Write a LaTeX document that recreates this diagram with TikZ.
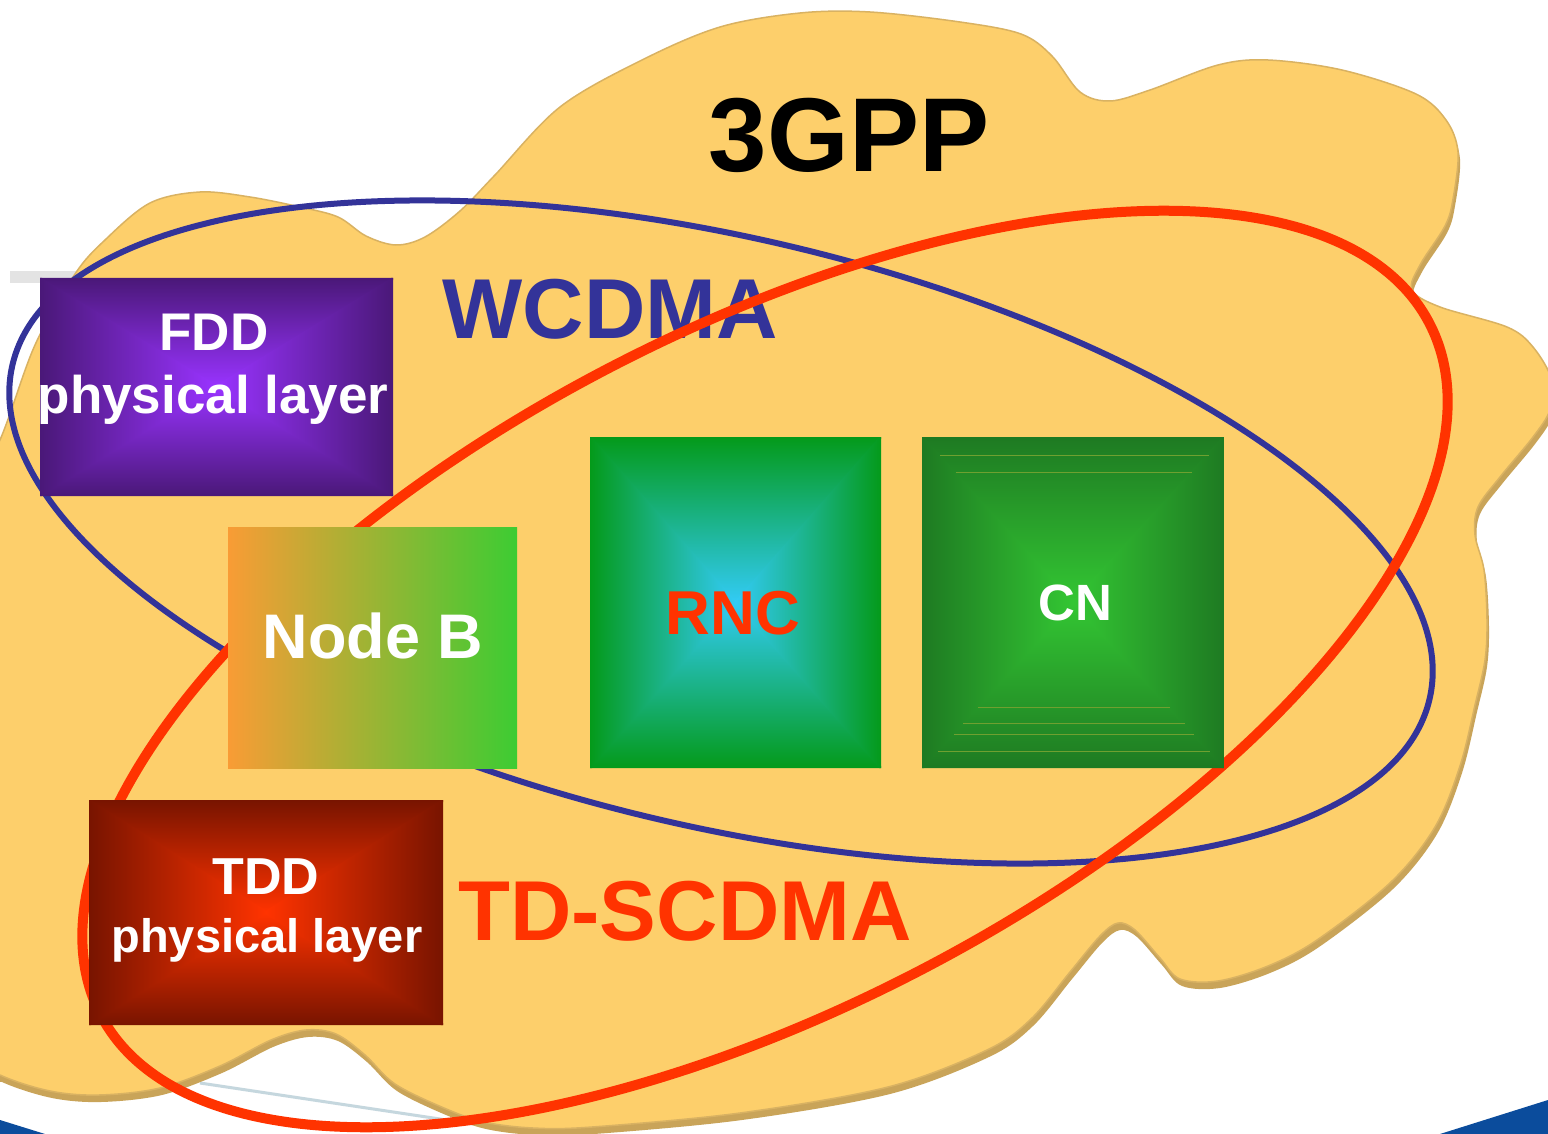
\documentclass[tikz,border=0pt]{standalone}
\usepackage{fontspec}
\setmainfont{Liberation Sans}
\definecolor{cloudfill}{HTML}{FDCF6B}
\definecolor{cloudedge}{HTML}{D9B262}
\definecolor{cloudshadow}{HTML}{C9A459}
\definecolor{wblue}{HTML}{333399}
\definecolor{tdred}{HTML}{FF3300}
\definecolor{fddout}{HTML}{4A1878}
\definecolor{fddin}{HTML}{9933FF}
\definecolor{tddout}{HTML}{781400}
\definecolor{tddin}{HTML}{FF3300}
\definecolor{rncout}{HTML}{049A1A}
\definecolor{rncin}{HTML}{32CBF5}
\definecolor{cnout}{HTML}{1E7A22}
\definecolor{cnin}{HTML}{33C633}
\definecolor{nbl}{HTML}{F99C35}
\definecolor{nbm}{HTML}{C4AE38}
\definecolor{nbr}{HTML}{3DCC33}
\definecolor{swoosh}{HTML}{0B4C9C}
\definecolor{cnline}{HTML}{6FA030}
\newcommand\rectshade[7]{%
  \pgfmathsetmacro\rsx{(#1+#3)/2}%
  \pgfmathsetmacro\rsy{(#2+#4)/2}%
  \begin{scope}
    \clip (#1,#2) -- (#3,#2) -- (#3,#2+2) -- (\rsx+2,\rsy) -- (\rsx-2,\rsy) -- (#1,#2+2) -- cycle;
    \shade[top color=#5, middle color=#7, bottom color=#6] (#1,#2) rectangle (#3,\rsy);
  \end{scope}
  \begin{scope}
    \clip (#1,#4) -- (#3,#4) -- (#3,#4-2) -- (\rsx+2,\rsy) -- (\rsx-2,\rsy) -- (#1,#4-2) -- cycle;
    \shade[top color=#6, middle color=#7, bottom color=#5] (#1,\rsy) rectangle (#3,#4);
  \end{scope}
  \begin{scope}
    \clip (#1,#2) -- (#1,#4) -- (#1+2,#4) -- (\rsx,\rsy+2) -- (\rsx,\rsy-2) -- (#1+2,#2) -- cycle;
    \shade[left color=#5, middle color=#7, right color=#6] (#1,#2) rectangle (\rsx,#4);
  \end{scope}
  \begin{scope}
    \clip (#3,#2) -- (#3,#4) -- (#3-2,#4) -- (\rsx,\rsy+2) -- (\rsx,\rsy-2) -- (#3-2,#2) -- cycle;
    \shade[left color=#6, middle color=#7, right color=#5] (\rsx,#2) rectangle (#3,#4);
  \end{scope}
}
\tikzset{
  boxnode/.style={draw=none, inner sep=0pt, outer sep=0pt},
  boxtext/.style={anchor=base, inner sep=0pt, text=white},
  cloudpath/.style={smooth cycle, tension=0.55},
}
\begin{document}
\begin{tikzpicture}[x=1pt,y=-1pt]
\useasboundingbox (0,0) rectangle (1548,1134);
\clip (0,0) rectangle (1548,1134);
\fill[white] (0,0) rectangle (1548,1134);
% background bits
\fill[gray!22] (10,271) rectangle (80,283);
\fill[swoosh] (0,1120) -- (45,1134) -- (0,1134) -- cycle;
\fill[swoosh] (1440,1134) -- (1548,1100) -- (1548,1134) -- cycle;
\draw[line width=3pt, color=cyan!30!gray!40] (200,1083) -- (480,1125);
% cloud
\def\cloudpts{(-40,520) (0,440) (35,345) (75,274) (105,240) (150,203) (200,192) (250,197) (300,207) (338,217) (366,236) (396,245) (425,237) (460,211) (495,175) (560,107) (642,60) (720,27) (800,13) (870,12) (960,22) (1021,34) (1052,56) (1080,92) (1110,101) (1150,90) (1218,65) (1268,60) (1342,70) (1416,94) (1446,120) (1458,152) (1453,199) (1445,226) (1420,265) (1412,290) (1440,307) (1507,327) (1533,347) (1552,380) (1550,410) (1533,437) (1500,477) (1478,507) (1475,535) (1484,570) (1487,620) (1485,660) (1475,705) (1460,766) (1435,827) (1391,882) (1317,940) (1268,966) (1218,981) (1180,979) (1160,958) (1135,930) (1118,923) (1100,936) (1070,972) (1031,1019) (987,1050) (888,1087) (740,1113) (592,1127) (533,1128) (484,1122) (444,1108) (395,1084) (365,1055) (336,1034) (306,1030) (271,1040) (220,1066) (160,1088) (99,1095) (50,1091) (0,1075) (-40,1050)}
\fill[cloudshadow, xshift=2pt, yshift=-7pt] plot[cloudpath] coordinates {\cloudpts};
\filldraw[fill=cloudfill, draw=cloudedge, line width=1.5pt] plot[cloudpath] coordinates {\cloudpts};
% title
\node[anchor=base, inner sep=0pt, font=\bfseries\fontsize{105}{110}\selectfont] (gpp) at (849,172) {3GPP};
% WCDMA ellipse
\draw[color=wblue, line width=6pt, rotate around={-13.3:(721,532)}] (721,532) ellipse [x radius=728, y radius=294];
\node[anchor=base, inner sep=0pt, text=wblue, font=\bfseries\fontsize{85}{90}\selectfont] (wcdma) at (610,338) {WCDMA};
% TD-SCDMA ellipse
\draw[color=tdred, line width=10pt, rotate around={27.5:(765,669)}] (765,669) ellipse [x radius=749, y radius=339];
\node[anchor=base, inner sep=0pt, text=tdred, font=\bfseries\fontsize{85}{90}\selectfont] (tdscdma) at (685,940) {TD-SCDMA};
% FDD box
\rectshade{40}{278}{393}{496}{fddout}{fddin}{fddin!50!fddout}
\node[boxnode, minimum width=353pt, minimum height=218pt] (fdd) at (216.5,387) {};
\node[boxtext, font=\bfseries\fontsize{53}{60}\selectfont] (fddt1) at (214,350) {FDD};
\node[boxtext, font=\bfseries\fontsize{53}{60}\selectfont] (fddt2) at (213,413) {physical layer};
% Node B
\shade[left color=nbl, middle color=nbm, right color=nbr] (228,527) rectangle (517,768);
\node[boxnode, minimum width=289pt, minimum height=241pt] (nodeb) at (372.5,647.5) {};
\node[boxtext, font=\bfseries\fontsize{63}{70}\selectfont] (nodebt) at (373,658) {Node B};
% RNC
\rectshade{590}{437}{881}{768}{rncout}{rncin}{rncin!62!rncout}
\node[boxnode, minimum width=291pt, minimum height=331pt] (rnc) at (735.5,602.5) {};
\node[boxtext, text=tdred, font=\bfseries\fontsize{62}{70}\selectfont] (rnct) at (733,634) {RNC};
% CN
\rectshade{922}{437}{1224}{768}{cnout}{cnin}{cnin!45!cnout}
\foreach \ya/\xa/\xb in {455/940/1209, 472/956/1192, 707/978/1170, 723/963/1185, 734/954/1194, 751/938/1210}
  \draw[cnline, line width=1pt] (\xa,\ya) -- (\xb,\ya);
\node[boxnode, minimum width=302pt, minimum height=331pt] (cn) at (1073,602.5) {};
\node[boxtext, font=\bfseries\fontsize{51}{60}\selectfont] (cnt) at (1075,620) {CN};
% TDD box
\rectshade{89}{800}{443}{1025}{tddout}{tddin}{tddin!45!tddout}
\node[boxnode, minimum width=354pt, minimum height=225pt] (tdd) at (266,912.5) {};
\node[boxtext, font=\bfseries\fontsize{52}{60}\selectfont] (tddt1) at (266,894) {TDD};
\node[boxtext, font=\bfseries\fontsize{47}{55}\selectfont] (tddt2) at (267,952) {physical layer};
\end{tikzpicture}
\end{document}
